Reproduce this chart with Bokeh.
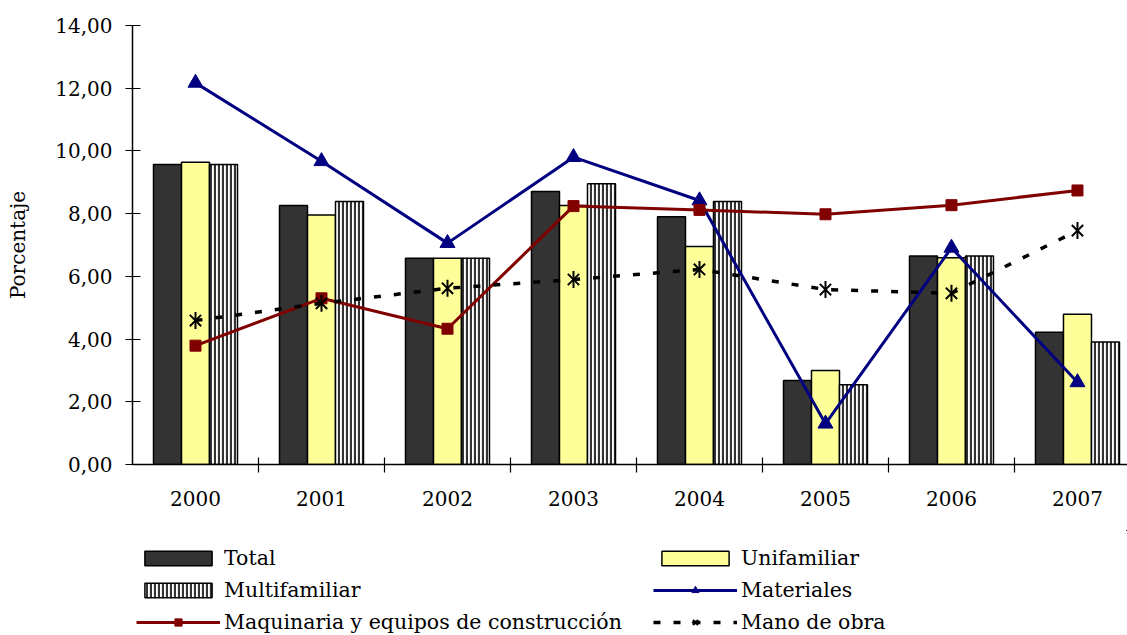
import math
from bokeh.plotting import figure
from bokeh.layouts import column
from bokeh.models import Range1d, FixedTicker, Legend, LegendItem, ColumnDataSource
from bokeh.transform import dodge
from bokeh.embed import file_html
from bokeh.resources import INLINE

years = ["2000", "2001", "2002", "2003", "2004", "2005", "2006", "2007"]
total = [9.57, 8.26, 6.58, 8.71, 7.90, 2.68, 6.65, 4.22]
unifamiliar = [9.64, 7.96, 6.58, 8.26, 6.95, 3.00, 6.59, 4.79]
multifamiliar = [9.57, 8.39, 6.58, 8.95, 8.39, 2.54, 6.65, 3.91]
materiales = [12.17, 9.67, 7.06, 9.80, 8.42, 1.30, 6.91, 2.62]
maquinaria = [3.79, 5.30, 4.33, 8.24, 8.12, 7.98, 8.27, 8.74]
mano_obra = [4.59, 5.14, 5.62, 5.90, 6.22, 5.58, 5.46, 7.46]
y_ticks = [0, 2, 4, 6, 8, 10, 12, 14]
y_tick_labels = ["0,00", "2,00", "4,00", "6,00", "8,00", "10,00", "12,00", "14,00"]
series_names = ["Total", "Unifamiliar", "Multifamiliar", "Materiales",
                "Maquinaria y equipos de construcción", "Mano de obra"]

FONT = "'DejaVu Serif'"
FS = "20px"

# styles
S_TOTAL = dict(fill_color="#333333", line_color="black", line_width=1.5)
S_UNI = dict(fill_color="#FFFF99", line_color="black", line_width=1.5)
S_MULTI = dict(fill_color="white", line_color="black", line_width=1.5,
               hatch_pattern="vertical_line", hatch_scale=4, hatch_weight=2.2,
               hatch_color="#333333")
S_MAT_L = dict(line_color="#000080", line_width=3)
S_MAT_M = dict(marker="triangle", fill_color="#000080", line_color="#000080")
S_MAQ_L = dict(line_color="#800000", line_width=3)
S_MAQ_M = dict(marker="square", fill_color="#800000", line_color="#800000")
S_MANO_L = dict(line_color="black", line_width=3.5, line_dash="7 13")
S_MANO_X = dict(marker="x", line_color="black", line_width=2)
S_MANO_V = dict(marker="dash", angle=math.pi / 2, line_color="black", line_width=2)

xpos = [i + 0.5 for i in range(len(years))]
src = ColumnDataSource(dict(x=xpos, total=total, uni=unifamiliar, multi=multifamiliar,
                            mat=materiales, maq=maquinaria, mano=mano_obra))

p = figure(width=1127, height=530, output_backend="svg", toolbar_location=None,
           x_range=Range1d(0, 7.897), y_range=Range1d(0, 14),
           min_border_left=132, min_border_top=25, min_border_bottom=66,
           min_border_right=0)
p.outline_line_color = None
p.background_fill_color = "white"

bw = 0.2222
p.vbar(x=dodge("x", -bw, range=p.x_range), top="total", width=bw, source=src, **S_TOTAL)
p.vbar(x="x", top="uni", width=bw, source=src, **S_UNI)
p.vbar(x=dodge("x", bw, range=p.x_range), top="multi", width=bw, source=src, **S_MULTI)

p.line("x", "mat", source=src, **S_MAT_L)
p.scatter("x", "mat", source=src, size=15, **S_MAT_M)
p.line("x", "maq", source=src, **S_MAQ_L)
p.scatter("x", "maq", source=src, size=11, **S_MAQ_M)
p.line("x", "mano", source=src, **S_MANO_L)
p.scatter("x", "mano", source=src, size=16, **S_MANO_X)
p.scatter("x", "mano", source=src, size=17, **S_MANO_V)

# axes
p.xaxis.ticker = FixedTicker(ticks=xpos, minor_ticks=[1, 2, 3, 4, 5, 6, 7])
p.xaxis.major_label_overrides = {x: y for x, y in zip(xpos, years)}
p.xaxis.major_tick_in = 0
p.xaxis.major_tick_out = 0
p.xaxis.minor_tick_in = 7
p.xaxis.minor_tick_out = 8
p.xaxis.minor_tick_line_color = "black"
p.xaxis.minor_tick_line_width = 1.2
p.xaxis.major_label_standoff = 18

p.yaxis.ticker = FixedTicker(ticks=y_ticks, minor_ticks=[])
p.yaxis.major_label_overrides = {t: l for t, l in zip(y_ticks, y_tick_labels)}
p.yaxis.major_tick_in = 8
p.yaxis.major_tick_out = 7
p.yaxis.major_tick_line_width = 1.2
p.yaxis.major_label_standoff = 13
p.yaxis.axis_label = "Porcentaje"
p.yaxis.axis_label_standoff = 22
p.yaxis.axis_label_text_font_style = "normal"

for ax in (p.xaxis, p.yaxis):
    ax.axis_line_color = "black"
    ax.axis_line_width = 1.5
    ax.major_tick_line_color = "black"
    ax.major_label_text_font = FONT
    ax.major_label_text_font_size = FS
    ax.major_label_text_color = "black"
    ax.axis_label_text_font = FONT
    ax.axis_label_text_font_size = FS
    ax.axis_label_text_color = "black"

p.xgrid.visible = False
p.ygrid.ticker = FixedTicker(ticks=[14])
p.ygrid.grid_line_color = "#808080"
p.ygrid.grid_line_width = 1.5

# legend figure: same series and styles, drawn outside its (empty) view, only for the key
q = figure(width=1127, height=105, output_backend="svg", toolbar_location=None,
           x_range=Range1d(-30, -29), y_range=Range1d(-30, -29),
           min_border_left=0, min_border_right=0, min_border_top=0, min_border_bottom=0)
q.axis.visible = False
q.grid.visible = False
q.outline_line_color = None
l_total = q.vbar(x="x", top="total", width=bw, source=src, **S_TOTAL)
l_uni = q.vbar(x="x", top="uni", width=bw, source=src, **S_UNI)
l_multi = q.vbar(x="x", top="multi", width=bw, source=src, **S_MULTI)
l_mat = [q.line("x", "mat", source=src, **S_MAT_L),
         q.scatter("x", "mat", source=src, **S_MAT_M)]
l_maq = [q.line("x", "maq", source=src, **S_MAQ_L),
         q.scatter("x", "maq", source=src, **S_MAQ_M)]
l_mano = [q.line("x", "mano", source=src, **S_MANO_L),
          q.scatter("x", "mano", source=src, **S_MANO_X),
          q.scatter("x", "mano", source=src, **S_MANO_V)]

legend = Legend(items=[
    LegendItem(label=series_names[0], renderers=[l_total], index=0),
    LegendItem(label=series_names[1], renderers=[l_uni], index=0),
    LegendItem(label=series_names[2], renderers=[l_multi], index=0),
    LegendItem(label=series_names[3], renderers=l_mat),
    LegendItem(label=series_names[4], renderers=l_maq),
    LegendItem(label=series_names[5], renderers=l_mano),
], location=(4, 1), orientation="horizontal", ncols=2)
legend.padding = 0
legend.margin = 0
legend.spacing = 8
legend.glyph_width = 84
legend.glyph_height = 18
legend.label_height = 18
legend.label_width = 421
legend.label_standoff = 4
legend.label_text_font = FONT
legend.label_text_font_size = "20.5px"
legend.label_text_color = "black"
legend.border_line_alpha = 0
legend.background_fill_alpha = 0
q.add_layout(legend, "center")

open("out.html", "w").write(file_html(column(p, q), INLINE))
